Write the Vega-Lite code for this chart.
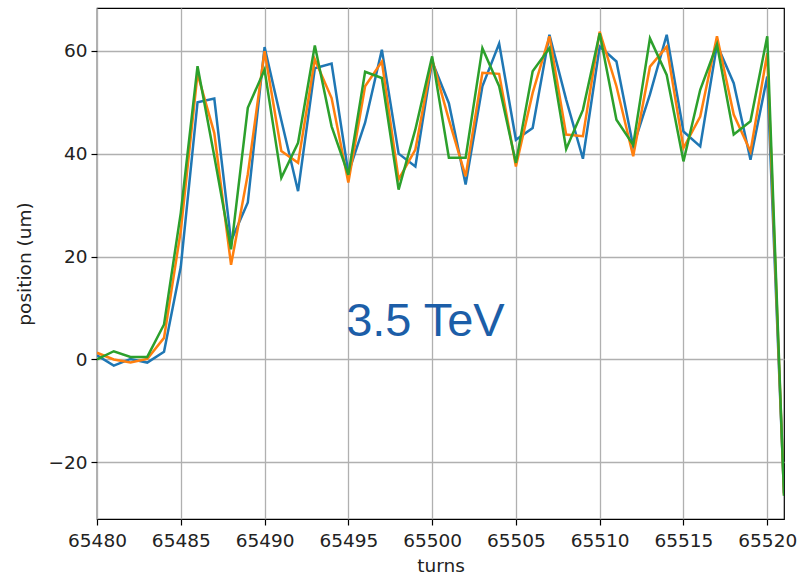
{
  "$schema": "https://vega.github.io/schema/vega-lite/v6.json",
  "width": 687,
  "height": 511,
  "autosize": {"type": "none"},
  "padding": {"left": 97, "top": 8, "right": 21, "bottom": 58},
  "background": "white",
  "config": {
    "view": {"stroke": "black", "strokeWidth": 1.2},
    "axis": {
      "labelFont": "DejaVu Sans",
      "titleFont": "DejaVu Sans",
      "labelFontSize": 18.5,
      "titleFontSize": 18.5,
      "titleFontWeight": "normal",
      "labelColor": "#222222",
      "titleColor": "#222222",
      "gridColor": "#b0b0b0",
      "gridWidth": 1.3,
      "gridOpacity": 1,
      "tickColor": "black",
      "tickSize": 6,
      "tickWidth": 1.2,
      "domain": false
    }
  },
  "datasets": {
    "pos": [
      {"turn": 65480, "s": "1", "v": 0.8}, {"turn": 65480, "s": "2", "v": 1.3}, {"turn": 65480, "s": "3", "v": 0.0},
      {"turn": 65481, "s": "1", "v": -1.2}, {"turn": 65481, "s": "2", "v": 0.0}, {"turn": 65481, "s": "3", "v": 1.6},
      {"turn": 65482, "s": "1", "v": 0.1}, {"turn": 65482, "s": "2", "v": -0.6}, {"turn": 65482, "s": "3", "v": 0.5},
      {"turn": 65483, "s": "1", "v": -0.6}, {"turn": 65483, "s": "2", "v": 0.1}, {"turn": 65483, "s": "3", "v": 0.5},
      {"turn": 65484, "s": "1", "v": 1.5}, {"turn": 65484, "s": "2", "v": 4.2}, {"turn": 65484, "s": "3", "v": 6.8},
      {"turn": 65485, "s": "1", "v": 18.0}, {"turn": 65485, "s": "2", "v": 25.0}, {"turn": 65485, "s": "3", "v": 28.5},
      {"turn": 65486, "s": "1", "v": 50.0}, {"turn": 65486, "s": "2", "v": 55.5}, {"turn": 65486, "s": "3", "v": 57.0},
      {"turn": 65487, "s": "1", "v": 50.7}, {"turn": 65487, "s": "2", "v": 44.0}, {"turn": 65487, "s": "3", "v": 39.5},
      {"turn": 65488, "s": "1", "v": 23.0}, {"turn": 65488, "s": "2", "v": 18.4}, {"turn": 65488, "s": "3", "v": 21.4},
      {"turn": 65489, "s": "1", "v": 30.5}, {"turn": 65489, "s": "2", "v": 36.0}, {"turn": 65489, "s": "3", "v": 48.9},
      {"turn": 65490, "s": "1", "v": 60.7}, {"turn": 65490, "s": "2", "v": 59.9}, {"turn": 65490, "s": "3", "v": 56.3},
      {"turn": 65491, "s": "1", "v": 46.5}, {"turn": 65491, "s": "2", "v": 40.5}, {"turn": 65491, "s": "3", "v": 35.3},
      {"turn": 65492, "s": "1", "v": 32.7}, {"turn": 65492, "s": "2", "v": 38.2}, {"turn": 65492, "s": "3", "v": 42.1},
      {"turn": 65493, "s": "1", "v": 56.6}, {"turn": 65493, "s": "2", "v": 58.3}, {"turn": 65493, "s": "3", "v": 61.0},
      {"turn": 65494, "s": "1", "v": 57.5}, {"turn": 65494, "s": "2", "v": 50.8}, {"turn": 65494, "s": "3", "v": 45.3},
      {"turn": 65495, "s": "1", "v": 36.2}, {"turn": 65495, "s": "2", "v": 34.4}, {"turn": 65495, "s": "3", "v": 35.9},
      {"turn": 65496, "s": "1", "v": 46.0}, {"turn": 65496, "s": "2", "v": 53.1}, {"turn": 65496, "s": "3", "v": 55.9},
      {"turn": 65497, "s": "1", "v": 60.2}, {"turn": 65497, "s": "2", "v": 57.9}, {"turn": 65497, "s": "3", "v": 54.7},
      {"turn": 65498, "s": "1", "v": 40.0}, {"turn": 65498, "s": "2", "v": 35.0}, {"turn": 65498, "s": "3", "v": 33.0},
      {"turn": 65499, "s": "1", "v": 37.5}, {"turn": 65499, "s": "2", "v": 40.8}, {"turn": 65499, "s": "3", "v": 44.7},
      {"turn": 65500, "s": "1", "v": 57.9}, {"turn": 65500, "s": "2", "v": 58.3}, {"turn": 65500, "s": "3", "v": 58.9},
      {"turn": 65501, "s": "1", "v": 49.8}, {"turn": 65501, "s": "2", "v": 46.6}, {"turn": 65501, "s": "3", "v": 39.2},
      {"turn": 65502, "s": "1", "v": 34.0}, {"turn": 65502, "s": "2", "v": 35.6}, {"turn": 65502, "s": "3", "v": 39.2},
      {"turn": 65503, "s": "1", "v": 53.1}, {"turn": 65503, "s": "2", "v": 55.7}, {"turn": 65503, "s": "3", "v": 60.5},
      {"turn": 65504, "s": "1", "v": 61.4}, {"turn": 65504, "s": "2", "v": 55.5}, {"turn": 65504, "s": "3", "v": 53.1},
      {"turn": 65505, "s": "1", "v": 42.7}, {"turn": 65505, "s": "2", "v": 37.5}, {"turn": 65505, "s": "3", "v": 38.2},
      {"turn": 65506, "s": "1", "v": 45.0}, {"turn": 65506, "s": "2", "v": 51.8}, {"turn": 65506, "s": "3", "v": 56.0},
      {"turn": 65507, "s": "1", "v": 63.1}, {"turn": 65507, "s": "2", "v": 62.8}, {"turn": 65507, "s": "3", "v": 60.5},
      {"turn": 65508, "s": "1", "v": 50.5}, {"turn": 65508, "s": "2", "v": 43.7}, {"turn": 65508, "s": "3", "v": 40.9},
      {"turn": 65509, "s": "1", "v": 39.0}, {"turn": 65509, "s": "2", "v": 43.4}, {"turn": 65509, "s": "3", "v": 48.5},
      {"turn": 65510, "s": "1", "v": 60.8}, {"turn": 65510, "s": "2", "v": 63.7}, {"turn": 65510, "s": "3", "v": 63.4},
      {"turn": 65511, "s": "1", "v": 57.9}, {"turn": 65511, "s": "2", "v": 53.1}, {"turn": 65511, "s": "3", "v": 46.6},
      {"turn": 65512, "s": "1", "v": 41.4}, {"turn": 65512, "s": "2", "v": 39.5}, {"turn": 65512, "s": "3", "v": 41.7},
      {"turn": 65513, "s": "1", "v": 51.5}, {"turn": 65513, "s": "2", "v": 56.9}, {"turn": 65513, "s": "3", "v": 62.4},
      {"turn": 65514, "s": "1", "v": 63.1}, {"turn": 65514, "s": "2", "v": 60.8}, {"turn": 65514, "s": "3", "v": 55.3},
      {"turn": 65515, "s": "1", "v": 44.3}, {"turn": 65515, "s": "2", "v": 41.1}, {"turn": 65515, "s": "3", "v": 38.5},
      {"turn": 65516, "s": "1", "v": 41.4}, {"turn": 65516, "s": "2", "v": 47.2}, {"turn": 65516, "s": "3", "v": 52.4},
      {"turn": 65517, "s": "1", "v": 61.2}, {"turn": 65517, "s": "2", "v": 62.8}, {"turn": 65517, "s": "3", "v": 61.2},
      {"turn": 65518, "s": "1", "v": 53.7}, {"turn": 65518, "s": "2", "v": 47.6}, {"turn": 65518, "s": "3", "v": 43.7},
      {"turn": 65519, "s": "1", "v": 38.8}, {"turn": 65519, "s": "2", "v": 40.4}, {"turn": 65519, "s": "3", "v": 46.3},
      {"turn": 65520, "s": "1", "v": 55.0}, {"turn": 65520, "s": "2", "v": 59.5}, {"turn": 65520, "s": "3", "v": 62.8},
      {"turn": 65521, "s": "1", "v": -26.0}, {"turn": 65521, "s": "2", "v": -26.3}, {"turn": 65521, "s": "3", "v": -26.5}
    ],
    "note": [
      {"turn": 65499.6, "v": 4.5, "label": "3.5 TeV"}
    ]
  },
  "layer": [
    {
      "data": {"name": "pos"},
      "mark": {"type": "line", "strokeWidth": 2.5, "clip": true},
      "encoding": {
        "x": {
          "field": "turn",
          "type": "quantitative",
          "scale": {"domain": [65480, 65521], "nice": false, "zero": false},
          "axis": {
            "title": "turns",
            "values": [65480, 65485, 65490, 65495, 65500, 65505, 65510, 65515, 65520],
            "format": "d",
            "labelPadding": 6,
            "titlePadding": 7,
            "labelFlush": false
          }
        },
        "y": {
          "field": "v",
          "type": "quantitative",
          "scale": {"domain": [-31, 68.3], "nice": false, "zero": false},
          "axis": {
            "title": "position (um)",
            "values": [-20, 0, 20, 40, 60],
            "labelPadding": 4,
            "titlePadding": 13
          }
        },
        "color": {
          "field": "s",
          "type": "nominal",
          "scale": {"domain": ["1", "2", "3"], "range": ["#1f77b4", "#ff7f0e", "#2ca02c"]},
          "legend": null
        },
        "order": {"field": "turn", "type": "quantitative"}
      }
    },
    {
      "data": {"name": "note"},
      "mark": {
        "type": "text",
        "font": "Liberation Sans",
        "fontSize": 47,
        "color": "#1c5ea8",
        "align": "center",
        "baseline": "alphabetic"
      },
      "encoding": {
        "x": {"field": "turn", "type": "quantitative"},
        "y": {"field": "v", "type": "quantitative"},
        "text": {"field": "label"}
      }
    }
  ]
}
